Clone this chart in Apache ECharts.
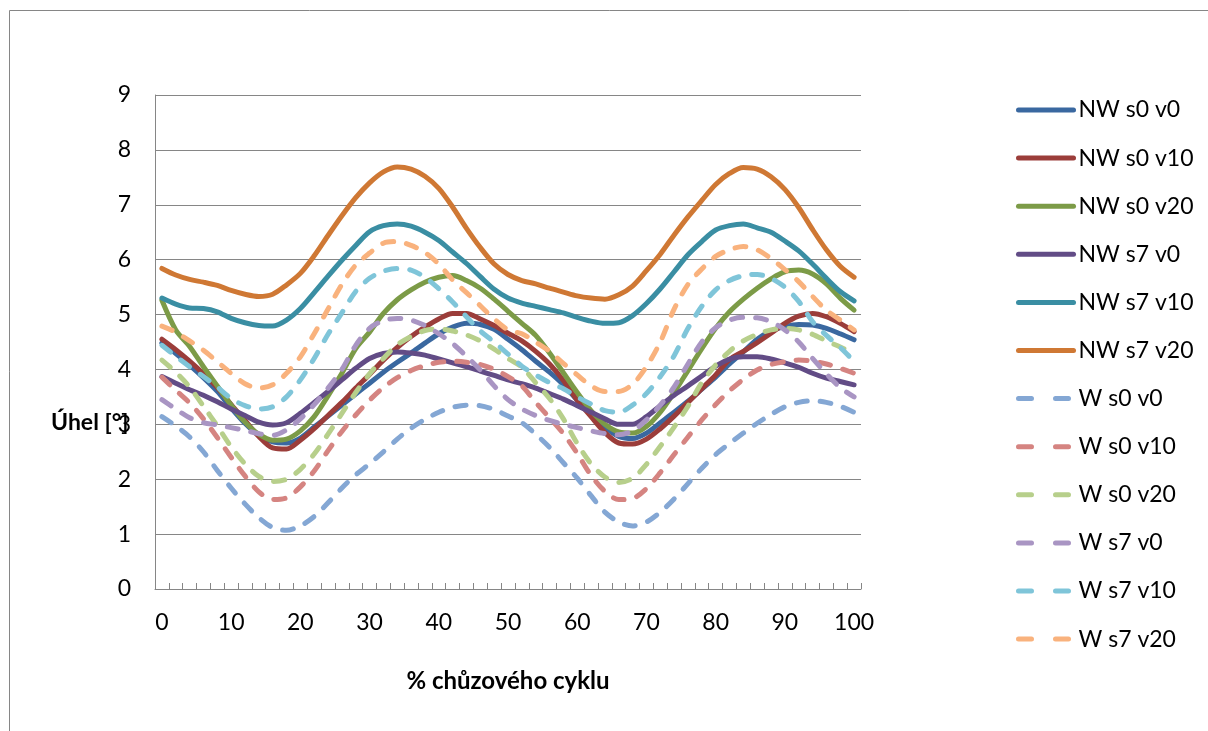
<!DOCTYPE html>
<html>
<head>
<meta charset="utf-8">
<script src="https://cdn.jsdelivr.net/npm/echarts@6/dist/echarts.min.js"></script>
<style>
html,body{margin:0;padding:0;background:#fff;}
#chart{width:1208px;height:731px;}
</style>
</head>
<body>
<div id="chart"></div>
<script>
// x categories: % of gait cycle, every 2 %
const categories = [];
for (let v = 0; v <= 100; v += 2) categories.push(String(v));

const seriesNames = ["NW s0 v0","NW s0 v10","NW s0 v20","NW s7 v0","NW s7 v10","NW s7 v20",
                     "W s0 v0","W s0 v10","W s0 v20","W s7 v0","W s7 v10","W s7 v20"];

const nw_s0_v0 = [4.48,4.29,4.08,3.85,3.60,3.30,3.02,2.80,2.68,2.66,2.75,2.95,3.15,3.35,3.55,3.75,3.95,4.13,4.30,4.48,4.65,4.77,4.84,4.82,4.73,4.55,4.36,4.15,3.95,3.72,3.44,3.19,2.95,2.78,2.74,2.84,3.03,3.22,3.42,3.64,3.86,4.10,4.32,4.55,4.70,4.78,4.82,4.81,4.75,4.65,4.54];
const nw_s0_v10 = [4.55,4.36,4.15,3.92,3.67,3.36,3.07,2.78,2.57,2.55,2.71,2.92,3.16,3.40,3.66,3.91,4.17,4.40,4.60,4.77,4.92,5.02,5.02,4.92,4.80,4.66,4.52,4.33,4.10,3.80,3.44,3.14,2.85,2.66,2.64,2.73,2.92,3.15,3.40,3.65,3.90,4.18,4.33,4.49,4.66,4.84,4.97,5.02,4.96,4.84,4.69];
const nw_s0_v20 = [5.26,4.72,4.42,4.05,3.70,3.35,3.04,2.82,2.71,2.73,2.88,3.14,3.52,3.93,4.38,4.68,5.02,5.27,5.45,5.59,5.68,5.71,5.62,5.48,5.28,5.06,4.84,4.62,4.30,3.94,3.58,3.25,3.00,2.86,2.84,2.96,3.22,3.58,3.98,4.38,4.75,5.05,5.28,5.48,5.65,5.78,5.81,5.74,5.56,5.30,5.08];
const nw_s7_v0 = [3.87,3.75,3.63,3.53,3.41,3.28,3.16,3.04,2.99,3.03,3.20,3.40,3.60,3.81,4.02,4.20,4.29,4.32,4.30,4.26,4.19,4.12,4.05,3.97,3.89,3.81,3.74,3.66,3.56,3.46,3.34,3.22,3.10,3.00,3.00,3.14,3.34,3.53,3.70,3.88,4.06,4.19,4.23,4.23,4.19,4.12,4.04,3.93,3.84,3.78,3.72];
const nw_s7_v10 = [5.30,5.19,5.12,5.11,5.05,4.93,4.85,4.80,4.79,4.90,5.11,5.40,5.70,5.99,6.26,6.51,6.62,6.65,6.61,6.50,6.35,6.14,5.93,5.69,5.46,5.30,5.21,5.15,5.09,5.03,4.95,4.88,4.84,4.85,4.98,5.20,5.47,5.78,6.09,6.33,6.54,6.62,6.65,6.58,6.50,6.34,6.16,5.92,5.66,5.42,5.25];
const nw_s7_v20 = [5.84,5.72,5.64,5.59,5.53,5.44,5.37,5.33,5.37,5.54,5.75,6.07,6.44,6.80,7.13,7.40,7.60,7.69,7.65,7.52,7.30,6.96,6.57,6.22,5.92,5.73,5.62,5.56,5.48,5.41,5.34,5.30,5.28,5.36,5.52,5.80,6.10,6.45,6.78,7.08,7.37,7.57,7.68,7.65,7.51,7.28,6.95,6.55,6.18,5.88,5.68];
const w_s0_v0 = [3.14,2.97,2.77,2.50,2.16,1.84,1.55,1.30,1.12,1.07,1.15,1.32,1.57,1.84,2.08,2.28,2.50,2.73,2.93,3.09,3.22,3.31,3.35,3.34,3.27,3.15,3.03,2.82,2.58,2.30,2.02,1.70,1.40,1.22,1.15,1.22,1.40,1.64,1.92,2.20,2.45,2.65,2.84,3.02,3.18,3.32,3.40,3.43,3.40,3.33,3.22];
const w_s0_v10 = [3.86,3.62,3.39,3.10,2.76,2.40,2.06,1.77,1.63,1.66,1.86,2.15,2.52,2.87,3.17,3.44,3.67,3.85,3.98,4.07,4.13,4.15,4.13,4.09,4.00,3.87,3.70,3.40,3.12,2.83,2.47,2.07,1.78,1.63,1.65,1.83,2.12,2.45,2.77,3.08,3.36,3.61,3.82,3.99,4.09,4.14,4.17,4.15,4.10,4.02,3.93];
const w_s0_v20 = [4.17,3.95,3.68,3.33,2.97,2.59,2.28,2.05,1.96,2.00,2.18,2.46,2.82,3.20,3.58,3.92,4.20,4.45,4.60,4.71,4.74,4.70,4.63,4.52,4.37,4.20,4.04,3.76,3.47,3.10,2.65,2.28,2.04,1.94,2.02,2.27,2.60,2.95,3.33,3.76,4.08,4.33,4.52,4.64,4.72,4.75,4.72,4.64,4.52,4.41,4.29];
const w_s7_v0 = [3.45,3.28,3.12,3.03,2.99,2.94,2.89,2.83,2.80,2.90,3.10,3.36,3.66,4.00,4.44,4.75,4.89,4.93,4.90,4.80,4.65,4.47,4.24,3.99,3.70,3.45,3.28,3.16,3.07,3.00,2.94,2.88,2.83,2.81,2.88,3.08,3.35,3.68,4.10,4.50,4.76,4.90,4.95,4.94,4.87,4.72,4.50,4.20,3.92,3.67,3.50];
const w_s7_v10 = [4.44,4.24,4.05,3.87,3.68,3.47,3.34,3.28,3.32,3.50,3.81,4.20,4.64,5.03,5.42,5.66,5.79,5.84,5.81,5.68,5.47,5.23,4.96,4.70,4.50,4.28,4.06,3.90,3.76,3.65,3.50,3.37,3.25,3.22,3.35,3.56,3.87,4.25,4.75,5.15,5.45,5.62,5.71,5.73,5.66,5.50,5.24,4.87,4.62,4.40,4.15];
const w_s7_v20 = [4.79,4.68,4.52,4.35,4.14,3.93,3.74,3.66,3.72,3.93,4.23,4.65,5.10,5.55,5.90,6.12,6.30,6.33,6.26,6.13,5.92,5.63,5.40,5.16,4.92,4.72,4.65,4.50,4.33,4.11,3.90,3.70,3.60,3.60,3.73,4.05,4.50,5.10,5.55,5.83,6.06,6.18,6.24,6.18,6.02,5.82,5.60,5.33,5.08,4.90,4.72];

const yTicks = [0,1,2,3,4,5,6,7,8,9];
const xLabelStep = 10;

const seriesValues = [nw_s0_v0,nw_s0_v10,nw_s0_v20,nw_s7_v0,nw_s7_v10,nw_s7_v20,
                      w_s0_v0,w_s0_v10,w_s0_v20,w_s7_v0,w_s7_v10,w_s7_v20];
const colors = ["#3A68A0","#9B3D3A","#7C9B47","#624C86","#3A8EA3","#CF7834",
                "#84A7D4","#D58481","#B7CF8B","#A995C3","#7FC5D9","#F9B27D"];

const FONT = "Lato";
const chart = echarts.init(document.getElementById('chart'), null, {renderer:'canvas'});

const series = seriesNames.map((name, i) => ({
  name: name,
  type: 'line',
  data: seriesValues[i],
  symbol: 'none',
  smooth: 0.3,
  animation: false,
  lineStyle: {
    color: colors[i],
    width: 5,
    cap: 'round',
    join: 'round',
    type: i >= 6 ? [11, 13] : 'solid'
  },
  itemStyle: {color: colors[i]}
}));

const legendData = seriesNames.map((name, i) => ({
  name: name,
  itemStyle: {opacity: 0},
  lineStyle: {type: i >= 6 ? [13, 24] : 'solid', width: 5, cap: 'round', color: colors[i]}
}));

chart.setOption({
  animation: false,
  backgroundColor: '#ffffff',
  color: colors,
  textStyle: {fontFamily: FONT},
  grid: {left: 155, right: 347, top: 95, bottom: 142, containLabel: false},
  xAxis: {
    type: 'category',
    data: categories,
    boundaryGap: true,
    name: '% chůzového cyklu',
    nameLocation: 'middle',
    nameGap: 80,
    nameTextStyle: {fontFamily: FONT, fontSize: 24, fontWeight: 'bold', color: '#000'},
    axisLine: {show: true, lineStyle: {color: '#868686', width: 1}},
    axisTick: {show: true, inside: true, length: 6, interval: 0, lineStyle: {color: '#868686'}},
    axisLabel: {
      interval: 0, margin: 22, fontFamily: FONT, fontSize: 23, color: '#000',
      formatter: function (v) { return (Number(v) % xLabelStep === 0) ? v : ''; }
    },
    splitLine: {show: false}
  },
  yAxis: {
    type: 'value',
    min: yTicks[0], max: yTicks[yTicks.length - 1], interval: 1,
    axisLine: {show: true, lineStyle: {color: '#868686', width: 1}},
    axisTick: {show: false},
    axisLabel: {margin: 24, fontFamily: FONT, fontSize: 23, color: '#000'},
    splitLine: {show: true, lineStyle: {color: '#868686', width: 1}}
  },
  legend: {
    orient: 'vertical',
    left: 1011,
    top: 91,
    itemWidth: 55,
    itemHeight: 28,
    itemGap: 20.1,
    data: legendData,
    itemStyle: {opacity: 0},
    textStyle: {fontFamily: FONT, fontSize: 23, color: '#000', padding: [0,0,0,0], lineHeight: 28},
    lineStyle: {width: 5, cap: 'round'},
    selectedMode: false
  },
  graphic: [
    {type: 'rect', silent: true, z: -1,
     shape: {x: 9.5, y: 10.5, width: 1300, height: 900},
     style: {fill: 'none', stroke: '#868686', lineWidth: 1}},
    {type: 'text', left: 51, top: 411, z: 10,
     style: {text: 'Úhel [°]', fontFamily: FONT, fontSize: 23, fontWeight: 'bold', fill: '#000'}}
  ],
  series: series
});
</script>
</body>
</html>
